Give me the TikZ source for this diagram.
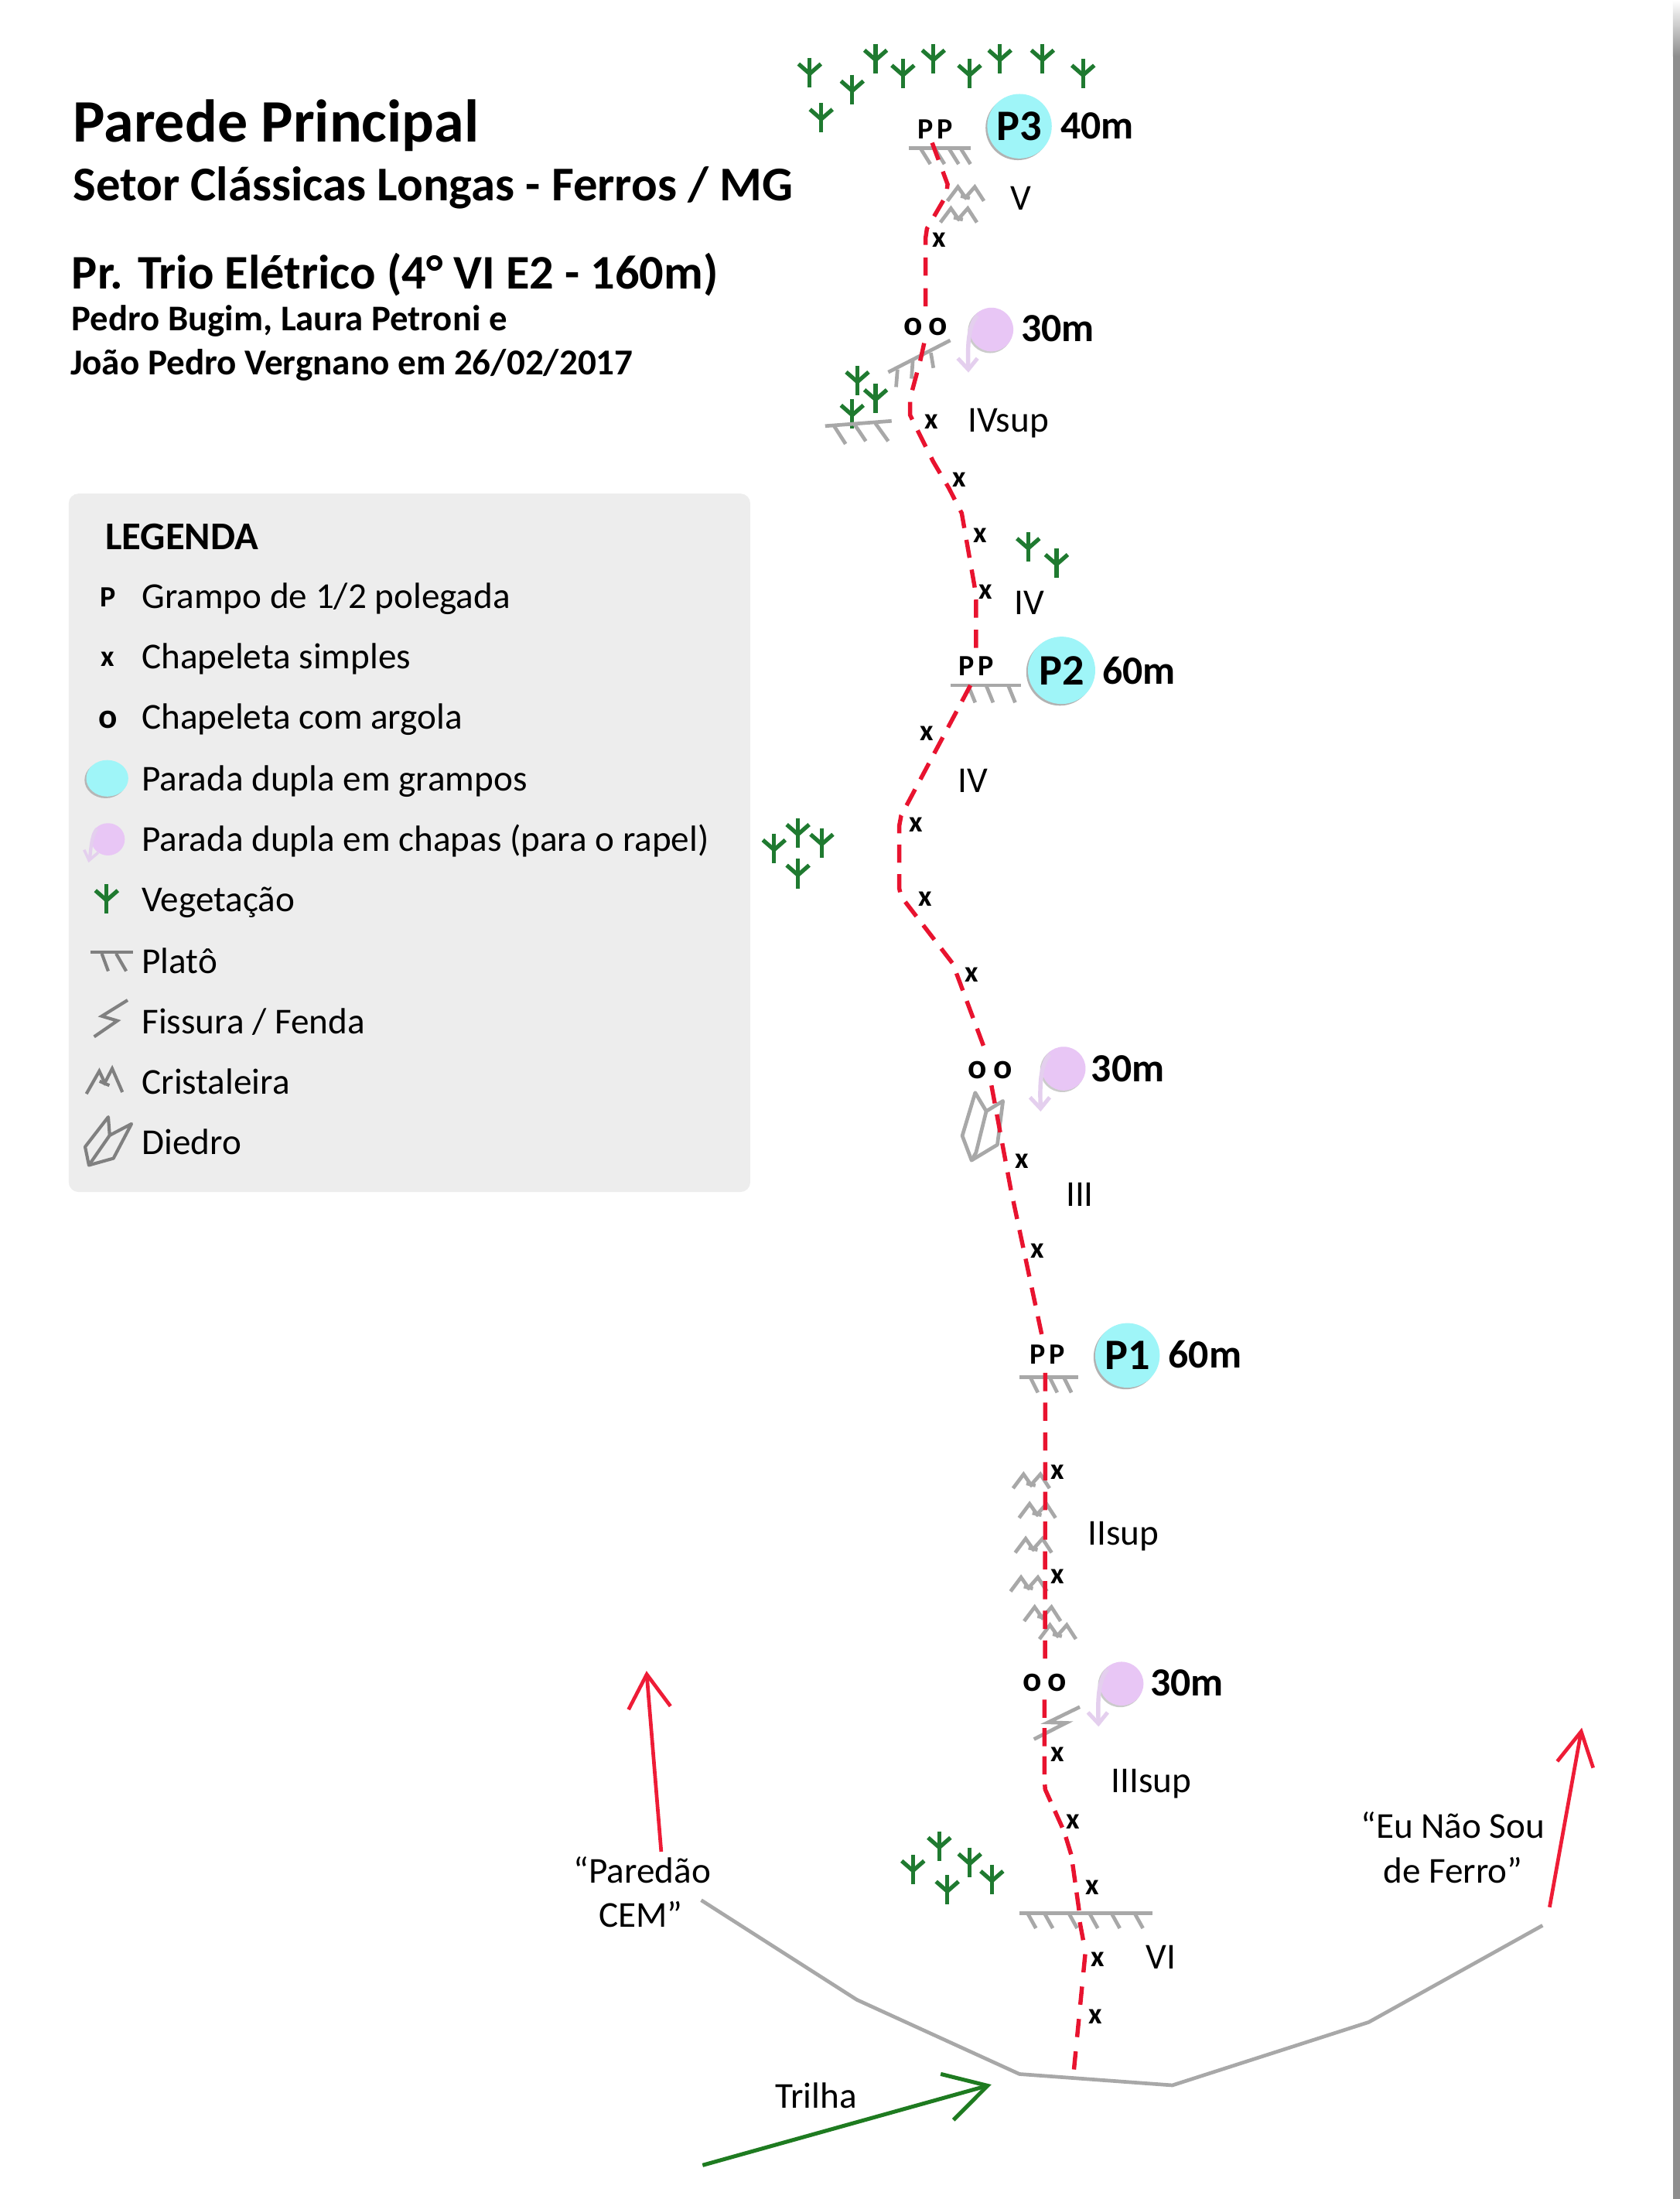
\documentclass[tikz,border=0pt]{standalone}
\usepackage{fontspec}
\setmainfont{Carlito}
\usetikzlibrary{arrows.meta,shapes.geometric,shadows}
\definecolor{routered}{HTML}{E8132F}
\definecolor{arrowred}{HTML}{EE1C36}
\definecolor{vegcol}{HTML}{1F7A30}
\definecolor{trailgreen}{HTML}{1E7B20}
\definecolor{rockgray}{HTML}{A8A8A8}
\definecolor{icongray}{HTML}{808080}
\definecolor{cyanfill}{HTML}{9FF5F8}
\definecolor{pinkfill}{HTML}{E8C6F5}
\definecolor{pinkline}{HTML}{E4CFEE}
\definecolor{panel}{HTML}{EDEDED}
\definecolor{edgebar}{HTML}{8E8E8E}
\tikzset{
  x=1pt,y=-1pt,
  route/.style={draw=routered,line width=3pt,dash pattern=on 13pt off #1pt},
  rock/.style={draw=rockgray,line width=2.6pt},
  leggray/.style={draw=icongray,line width=2.3pt},
  ground/.style={draw=rockgray,line width=2.6pt,line join=round},
  lbl/.style={inner sep=0pt,anchor=base,font=\fontsize{26}{30}\selectfont},
  legtxt/.style={inner sep=0pt,anchor=base west,font=\fontsize{26}{30}\selectfont},
  ttl/.style={inner sep=0pt,anchor=base west,font=\bfseries\fontsize{#1}{#1}\selectfont},
  bolt/.style={inner sep=0pt,font=\bfseries\fontsize{21}{22}\selectfont},
  ring/.style={inner sep=0pt,font=\bfseries\fontsize{25}{26}\selectfont},
  dist/.style={inner sep=0pt,font=\bfseries\fontsize{28.5}{30}\selectfont},
  stopcyan/.style={circle,fill=cyanfill,minimum size=46pt,inner sep=0pt,
    font=\bfseries\fontsize{31}{32}\selectfont,
    drop shadow={shadow xshift=-1.2pt,shadow yshift=-1.2pt,fill=black!55,opacity=.55}},
  veg/.pic={
    \draw[vegcol,line width=2.9pt] (0,-10.5)--(0,10.5);
    \draw[vegcol,line width=2.9pt] (-8,-6)--(0,1)--(8,-6);
  },
  crist/.pic={
    \draw[rock] (-13,5)--(-5.5,-5)--(0.5,3.5);
    \draw[rock] (-1,3.5)--(6.5,-5)--(13,5);
    \draw[rock] (-3.5,1.5)--(3,3);
  },
  pinkstop/.pic={
    \fill[black!40,opacity=.5] (-1,1) circle[radius=15.8];
    \fill[pinkfill] (0,0) circle[radius=15.6];
    \draw[pinkline,line width=3pt] (-10,-10) .. controls (-17,-2) and (-17,12) .. (-16.5,28);
    \draw[pinkline,line width=2.8pt] (-24,20.5)--(-16.5,28.5)--(-10,20.5);
  },
}
\begin{document}
\begin{tikzpicture}
\useasboundingbox (0,0) rectangle (1198,1568.1);
\fill[white] (0,0) rectangle (1198,1568.1);
% right edge
\shade[top color=white,bottom color=edgebar] (1193,0) rectangle (1198,40);
\fill[edgebar] (1193,40) rectangle (1198,1568.1);

% title
\node[ttl=43] (title1) at (52,101) {Parede Principal};
\node[ttl=34.6] (title2) at (52,143) {Setor Clássicas Longas - Ferros / MG};
\node[ttl=34.4] (title3) at (51,206) {Pr. Trio Elétrico (4° VI E2 - 160m)};
\node[ttl=25.8] (title4) at (51,236) {Pedro Bugim, Laura Petroni e};
\node[ttl=26] (title5) at (50,267) {João Pedro Vergnano em 26/02/2017};

% legend
\fill[panel,rounded corners=7pt] (49,352) rectangle (535,850);
\node[inner sep=0pt,anchor=base west,font=\bfseries\fontsize{28}{30}\selectfont] (legtitle) at (75,392) {LEGENDA};
\node[bolt] (legP) at (77,426) {P};
\node[bolt] (legX) at (77,470) {x};
\node[ring] (legO) at (77,513) {o};
\node[ellipse,fill=cyanfill,minimum width=30pt,minimum height=26pt,inner sep=0pt,
  drop shadow={shadow xshift=-1.2pt,shadow yshift=-1.2pt,fill=black!50,opacity=.5}] (legcyan) at (76.5,555) {};
\fill[pinkfill] (77,598.5) ellipse[x radius=12,y radius=11.5];
\draw[pinkline,line width=2.4pt] (69,591) .. controls (65,597) and (65,604) .. (64,612);
\draw[pinkline,line width=2pt] (60,606)--(63.5,613.5)--(70,608);
\pic at (76,641) {veg};
\draw[leggray] (64.4,678.8)--(94.7,678.8);
\draw[leggray] (72.6,680)--(77.2,692.5);
\draw[leggray] (82.8,680)--(90,692.5);
\draw[leggray] (91,713.2)--(72.6,724.6)--(83.7,727.9)--(67.1,739.3);
\draw[leggray] (61.6,780)--(70.8,763.8)--(75.4,773.6);
\draw[leggray] (74,773.6)--(80,762)--(87.3,778.8);
\draw[leggray] (71,771)--(78,774);
\draw[leggray,line join=round] (77.2,796.5)--(60.7,817.8)--(63.4,830.9)--(80.9,826)--(93.8,801.4)--(78.2,809.6)--cycle;
\draw[leggray] (78.2,809.6)--(63.4,830.9);
\node[legtxt] (leg1) at (101,434) {Grampo de 1/2 polegada};
\node[legtxt] (leg2) at (101,477) {Chapeleta simples};
\node[legtxt] (leg3) at (101,520) {Chapeleta com argola};
\node[legtxt] (leg4) at (101,564) {Parada dupla em grampos};
\node[legtxt] (leg5) at (101,607) {Parada dupla em chapas (para o rapel)};
\node[legtxt] (leg6) at (101,650) {Vegetação};
\node[legtxt] (leg7) at (101,694) {Platô};
\node[legtxt] (leg8) at (101,737) {Fissura / Fenda};
\node[legtxt] (leg9) at (101,780) {Cristaleira};
\node[legtxt] (leg10) at (101,823) {Diedro};

% vegetation
\foreach \vx/\vy in {577.4/51.6,607.7/63.8,585.6/84,624.4/41.8,643.9/52.6,665.6/41.8,691.4/52.6,713/41.8,743.4/41.8,772.3/52.6,
  611.4/271.3,624.4/284,607.7/295,733.2/390,753.4/401.5,552/605,569/594,586/601,569/623,
  651/1333,669.8/1316.4,691.5/1328,707.3/1340.3,675.5/1347.7}
  {\pic at (\vx,\vy) {veg};}

% platforms
\draw[rock] (648,105.8)--(692,105.8);
\foreach \tx in {656.4,666.5,676.6,685} {\draw[rock] (\tx,105.8)--(\tx+7,117);}
\draw[rock] (633.4,265.4)--(677.6,242.7);
\draw[rock] (640,263.4)--(639,276);
\draw[rock] (650.9,257)--(650,270);
\draw[rock] (663.8,251.6)--(665.6,262.4);
\draw[rock] (588.4,303.8)--(635.8,300.2);
\draw[rock] (594.8,303.8)--(603,316.6);
\draw[rock] (609.5,302.8)--(617.4,314.6);
\draw[rock] (624.2,301.8)--(633.4,314.6);
\draw[rock] (678,488.7)--(728,488.7);
\foreach \tx in {690.4,703.2,718.9} {\draw[rock] (\tx,488.7)--(\tx+5,501);}
\draw[rock] (727.2,982)--(768.6,982);
\foreach \tx in {734.6,748.4,758.5} {\draw[rock] (\tx,982)--(\tx+5.5,993);}
\draw[rock] (727.2,1364.2)--(821.9,1364.2);
\foreach \tx in {732.7,744.7,762.1,776.8,792.5,809} {\draw[rock] (\tx,1364.2)--(\tx+6,1375);}

% crystals, crack, dihedral
\foreach \cx/\cy in {688.6/138.3,683.6/153.6,735.4/1056.3,739.7/1077.4,736.9/1102.2,733.6/1129.8,743.3/1151,754.2/1163.8}
  {\pic at (\cx,\cy) {crist};}
\draw[rock] (770,1217.2)--(747.4,1228.2)--(760.2,1228.6)--(737.3,1240.2);
\draw[rock,line join=round] (695.4,779.2)--(686.2,809.9)--(692.8,827.4)--(711.2,816.3)--(715.2,785.1)--(703.3,792.4)--cycle;
\draw[rock] (703.3,792.4)--(696,821.9)--(692.8,827.4);

% ground
\coordinate (ga) at (500,1355);
\coordinate (gb) at (611,1426);
\coordinate (gc) at (727,1479);
\coordinate (gd) at (836,1487);
\coordinate (ge) at (976,1442);
\coordinate (gf) at (1100,1373);
\draw[ground] (ga)--(gb)--(gc)--(gd)--(ge)--(gf);

% route waypoints
\coordinate (a1) at (664.7,101.8);
\coordinate (a2) at (675.7,131.4);
\coordinate (a3) at (674.8,139.3);
\coordinate (a4) at (661,163);
\coordinate (a5) at (660,169.8);
\coordinate (a6) at (660,219);
\coordinate (b1) at (659,244.7);
\coordinate (b2) at (656.4,256.5);
\coordinate (b3) at (649,284);
\coordinate (b4) at (649,296);
\coordinate (b5) at (651.8,301.8);
\coordinate (b6) at (665.6,329.4);
\coordinate (b7) at (676.6,348);
\coordinate (b8) at (685.8,366);
\coordinate (b9) at (695,418.4);
\coordinate (b10) at (696,428);
\coordinate (b11) at (696,462);
\coordinate (c1) at (692,488.7);
\coordinate (c2) at (642.6,581.6);
\coordinate (c3) at (641.3,588.6);
\coordinate (c4) at (641.3,633.7);
\coordinate (c5) at (642.6,639.3);
\coordinate (c6) at (679.3,687);
\coordinate (c7) at (682,694);
\coordinate (c8) at (701.4,746);
\coordinate (d1) at (707,774);
\coordinate (d2) at (720.7,847.6);
\coordinate (d3) at (742.8,951.5);
\coordinate (e1) at (745.4,979);
\coordinate (e2) at (745.2,1183);
\coordinate (f1) at (744.8,1212);
\coordinate (f2) at (744.8,1269);
\coordinate (f3) at (745.3,1276);
\coordinate (f4) at (758.8,1306);
\coordinate (f5) at (764,1323);
\coordinate (f6) at (769.5,1362.4);
\coordinate (g1) at (770,1370.7);
\coordinate (g2) at (772.6,1384.5);
\coordinate (g3) at (774,1392);
\coordinate (g4) at (765.8,1476);
\draw[route=8.9] (a1)--(a2)--(a3)--(a4)--(a5)--(a6);
\draw[route=8.56] (b1)--(b2)--(b3)--(b4)--(b5)--(b6)--(b7)--(b8)--(b9)--(b10)--(b11);
\draw[route=8] (c1)--(c2)--(c3)--(c4)--(c5)--(c6)--(c7)--(c8);
\draw[route=8] (d1)--(d2)--(d3);
\draw[route=8.2] (e1)--(e2);
\draw[route=7.2] (f1)--(f2)--(f3)--(f4)--(f5)--(f6);
\draw[route=10.2] (g1)--(g2)--(g3)--(g4);

% side arrows
\coordinate (ra0) at (471.5,1320.4);
\coordinate (ra1) at (461,1191.5);
\coordinate (rb0) at (1105,1360);
\coordinate (rb1) at (1128,1232);
\coordinate (gr0) at (501,1544);
\coordinate (gr1) at (707,1486.5);
\draw[arrowred,line width=2.6pt,-{Straight Barb[length=24pt,width=30pt]}] (ra0)--(ra1);
\draw[arrowred,line width=2.6pt,-{Straight Barb[length=24pt,width=26pt]}] (rb0)--(rb1);
\draw[trailgreen,line width=2.8pt,-{Straight Barb[length=30pt,width=34pt]}] (gr0)--(gr1);

% bolts
\node[bolt] (p3a) at (660,92) {P};
\node[bolt] (p3b) at (674,92) {P};
\node[bolt] (p2a) at (689,475) {P};
\node[bolt] (p2b) at (703,475) {P};
\node[bolt] (p1a) at (740,966) {P};
\node[bolt] (p1b) at (754,966) {P};
\node[ring] (o1a) at (651,233) {o};
\node[ring] (o1b) at (669,233) {o};
\node[ring] (o2a) at (697,763) {o};
\node[ring] (o2b) at (715,763) {o};
\node[ring] (o3a) at (736,1200) {o};
\node[ring] (o3b) at (754,1200) {o};
\node[bolt] (x1) at (670,171) {x};
\node[bolt] (x2) at (664,301) {x};
\node[bolt] (x3) at (684,342) {x};
\node[bolt] (x4) at (699,382) {x};
\node[bolt] (x5) at (703,422) {x};
\node[bolt] (x6) at (661,523) {x};
\node[bolt] (x7) at (653,588) {x};
\node[bolt] (x8) at (660,641) {x};
\node[bolt] (x9) at (693,695) {x};
\node[bolt] (x10) at (729,828) {x};
\node[bolt] (x11) at (740,892) {x};
\node[bolt] (x12) at (754,1050) {x};
\node[bolt] (x13) at (754,1124) {x};
\node[bolt] (x14) at (754,1251) {x};
\node[bolt] (x15) at (765,1299) {x};
\node[bolt] (x16) at (779,1346) {x};
\node[bolt] (x17) at (783,1397) {x};
\node[bolt] (x18) at (781,1438) {x};

% stops
\node[stopcyan] (P3) at (727,90) {P3};
\node[stopcyan,minimum size=48pt] (P2) at (757,478) {P2};
\node[stopcyan] (P1) at (804,966.5) {P1};
\node[dist,anchor=west] (d3m) at (756,90) {40m};
\node[dist,anchor=west] (d2m) at (786,478) {60m};
\node[dist,anchor=west] (d1m) at (833,966) {60m};
\pic at (707,235) {pinkstop};
\pic at (758.5,762) {pinkstop};
\pic at (799.8,1200.6) {pinkstop};
\node[dist,anchor=west] (r3m) at (728,234) {30m};
\node[dist,anchor=west] (r2m) at (778,762) {30m};
\node[dist,anchor=west] (r1m) at (820,1200) {30m};

% grades
\node[lbl] (g5) at (728,150) {V};
\node[lbl] (g4sup) at (719,308) {IVsup};
\node[lbl] (g4a) at (734,438) {IV};
\node[lbl] (g4b) at (694,565) {IV};
\node[lbl] (g3) at (770,860) {III};
\node[lbl] (g2sup) at (801,1102) {IIsup};
\node[lbl] (g3sup) at (821,1278) {IIIsup};
\node[lbl] (g6) at (828,1404) {VI};

% place names
\node[lbl] (n1) at (458,1343) {“Paredão};
\node[lbl] (n2) at (457,1374) {CEM”};
\node[lbl] (n3) at (1036,1311) {“Eu Não Sou};
\node[lbl] (n4) at (1036,1343) {de Ferro”};
\node[lbl] (n5) at (582,1503) {Trilha};
\end{tikzpicture}
\end{document}
